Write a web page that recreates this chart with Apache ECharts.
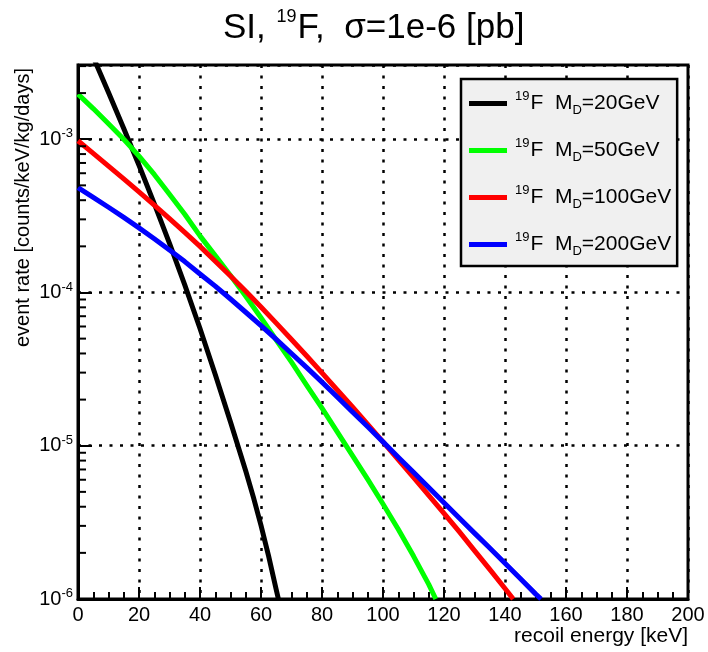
<!DOCTYPE html>
<html>
<head>
<meta charset="utf-8">
<script src="https://cdn.jsdelivr.net/npm/echarts@6/dist/echarts.min.js"></script>
<style>
html,body{margin:0;padding:0;background:#fff;}
#chart{width:708px;height:652px;}
</style>
</head>
<body>
<div id="chart"></div>
<script>
// ---- data ----
const xTickValues = [0, 20, 40, 60, 80, 100, 120, 140, 160, 180, 200];
const yMajorTicks = [1e-6, 1e-5, 1e-4, 1e-3];
const yMinorTicks = [2e-6,3e-6,4e-6,5e-6,6e-6,7e-6,8e-6,9e-6,
                     2e-5,3e-5,4e-5,5e-5,6e-5,7e-5,8e-5,9e-5,
                     2e-4,3e-4,4e-4,5e-4,6e-4,7e-4,8e-4,9e-4,
                     2e-3,3e-3];

const seriesNames = ['M20', 'M50', 'M100', 'M200'];
const massLabels = ['20', '50', '100', '200'];

const energy20 = [5,10,15,20,25,30,35,40,45,50,55,57.5,60,62.5,65,65.7];
const rate20 = [3.43e-3,2.02e-3,1.175e-3,6.76e-4,3.80e-4,2.09e-4,1.12e-4,5.82e-5,2.92e-5,1.43e-5,6.84e-6,4.62e-6,3.02e-6,1.905e-6,1.15e-6,1.0e-6];

const energy50 = [0,5,10,15,20,25,30,35,40,45,50,55,60,65,70,75,80,85,90,95,100,105,110,115,117.3];
const rate50 = [1.97e-3,1.585e-3,1.26e-3,1.0e-3,7.76e-4,5.89e-4,4.37e-4,3.24e-4,2.34e-4,1.74e-4,1.29e-4,9.44e-5,
                6.84e-5,4.90e-5,3.51e-5,2.48e-5,1.76e-5,1.23e-5,8.61e-6,6.03e-6,4.17e-6,2.85e-6,1.905e-6,1.245e-6,1.0e-6];

const energy100 = [0,5,10,15,20,25,30,35,40,45,50,55,60,65,70,75,80,85,90,95,100,105,110,115,120,125,130,135,140,142.7];
const rate100 = [9.77e-4,8.09e-4,6.68e-4,5.51e-4,4.53e-4,3.72e-4,3.03e-4,2.47e-4,2.0e-4,1.60e-4,1.28e-4,1.02e-4,
                 8.04e-5,6.31e-5,4.93e-5,3.85e-5,2.99e-5,2.31e-5,1.79e-5,1.38e-5,1.06e-5,8.13e-6,6.22e-6,4.75e-6,
                 3.62e-6,2.75e-6,2.07e-6,1.56e-6,1.17e-6,1.0e-6];

const energy200 = [0,5,10,15,20,25,30,35,40,45,50,55,60,65,70,75,80,85,90,95,100,105,110,115,120,125,130,135,140,145,150,151.8];
const rate200 = [4.84e-4,4.18e-4,3.60e-4,3.09e-4,2.64e-4,2.24e-4,1.89e-4,1.59e-4,1.32e-4,1.10e-4,9.07e-5,7.43e-5,
                 6.07e-5,4.94e-5,4.00e-5,3.23e-5,2.60e-5,2.08e-5,1.66e-5,1.33e-5,1.06e-5,8.42e-6,6.71e-6,5.34e-6,
                 4.25e-6,3.38e-6,2.69e-6,2.15e-6,1.71e-6,1.36e-6,1.08e-6,1.0e-6];

const energies = [energy20, energy50, energy100, energy200];
const rates = [rate20, rate50, rate100, rate200];
const colors = ['#000000', '#00ff00', '#ff0000', '#0000ff'];

// ---- chart ----
const FONT = '"Liberation Sans", Arial, Helvetica, sans-serif';
const chart = echarts.init(document.getElementById('chart'), null, {renderer: 'canvas'});

function pairs(xs, ys) { return xs.map((x, i) => [x, ys[i]]); }

const lineSeries = seriesNames.map((name, k) => ({
  name: name,
  type: 'line',
  data: pairs(energies[k], rates[k]),
  showSymbol: false,
  symbol: 'none',
  smooth: false,
  clip: true,
  color: colors[k],
  lineStyle: {color: colors[k], width: 5, join: 'round'},
  itemStyle: {color: colors[k]},
  emphasis: {disabled: true},
  animation: false,
  z: 3 + k
}));

const minorTickSeries = {
  name: 'yMinorTicks',
  type: 'custom',
  silent: true,
  clip: false,
  animation: false,
  z: 10,
  data: yMinorTicks.map(v => [0, v]),
  encode: {x: 0, y: 1},
  renderItem: function (params, api) {
    const p = api.coord([0, api.value(1)]);
    return {
      type: 'line',
      shape: {x1: p[0], y1: p[1], x2: p[0] + 8, y2: p[1]},
      style: {stroke: '#000', lineWidth: 2}
    };
  }
};

const option = {
  backgroundColor: '#ffffff',
  animation: false,
  textStyle: {fontFamily: FONT},
  title: {
    text: '{m|SI, }{s|19}{m|F,  σ=1e-6 [pb]}',
    left: 223,
    top: 8,
    padding: 0,
    textStyle: {
      fontFamily: FONT,
      fontWeight: 'normal',
      rich: {
        m: {fontFamily: FONT, fontSize: 35, fontWeight: 'normal', color: '#000', lineHeight: 40},
        s: {fontFamily: FONT, fontSize: 18, fontWeight: 'normal', color: '#000', verticalAlign: 'top', lineHeight: 20, padding: [0, 1, 0, 1]}
      }
    }
  },
  grid: {
    left: 78, right: 20, top: 65, bottom: 53,
    show: true,
    borderColor: '#000',
    borderWidth: 3,
    backgroundColor: 'transparent',
    containLabel: false,
    outerBoundsMode: 'none'
  },
  legend: {
    data: seriesNames,
    orient: 'vertical',
    left: 461,
    top: 79,
    icon: 'rect',
    itemWidth: 38,
    itemHeight: 5,
    itemGap: 20,
    selectedMode: false,
    backgroundColor: '#f0f0f0',
    borderColor: '#000',
    borderWidth: 2.5,
    borderRadius: 0,
    padding: [11, 6, 8, 8],
    formatter: function (name) {
      const i = seriesNames.indexOf(name);
      return '{s|19}{t|F  M}{d|D}{t|=' + massLabels[i] + 'GeV}';
    },
    textStyle: {
      color: '#000',
      fontFamily: FONT,
      fontSize: 21,
      rich: {
        t: {fontFamily: FONT, fontSize: 21, color: '#000', lineHeight: 27},
        s: {fontFamily: FONT, fontSize: 13, color: '#000', verticalAlign: 'top', lineHeight: 12, padding: [0, 1, 0, 3]},
        d: {fontFamily: FONT, fontSize: 13, color: '#000', verticalAlign: 'bottom', lineHeight: 12}
      }
    }
  },
  xAxis: {
    type: 'value',
    min: 0,
    max: 200,
    interval: 20,
    name: 'recoil energy [keV]',
    nameLocation: 'end',
    nameGap: 0,
    nameTextStyle: {
      fontFamily: FONT, fontSize: 21, color: '#000',
      align: 'right', verticalAlign: 'top', padding: [27, 0, 0, 0]
    },
    axisLine: {show: true, onZero: false, lineStyle: {color: '#000', width: 3}},
    axisTick: {show: true, inside: true, length: 12, lineStyle: {color: '#000', width: 2}},
    minorTick: {show: true, splitNumber: 4, length: 7, lineStyle: {color: '#000', width: 2}},
    axisLabel: {
      fontFamily: FONT, fontSize: 20, color: '#000', margin: 6,
      formatter: function (v) { return xTickValues.indexOf(v) >= 0 ? String(v) : ''; }
    },
    splitLine: {show: true, lineStyle: {color: '#000', width: 2.5, type: [3, 7.5]}}
  },
  yAxis: {
    type: 'log',
    logBase: 10,
    min: 1e-6,
    max: 3.05e-3,
    name: 'event rate [counts/keV/kg/days]',
    nameLocation: 'end',
    nameGap: -3,
    nameRotate: 90,
    nameTextStyle: {
      fontFamily: FONT, fontSize: 20, color: '#000',
      align: 'right', verticalAlign: 'bottom', padding: [0, 0, 45, 0]
    },
    axisLine: {show: true, onZero: false, lineStyle: {color: '#000', width: 3}},
    axisTick: {show: true, inside: true, length: 14, lineStyle: {color: '#000', width: 2}},
    minorTick: {show: false},
    axisLabel: {
      margin: 5,
      formatter: function (v) {
        const e = Math.round(Math.log10(v));
        let ok = false;
        for (const t of yMajorTicks) { if (Math.abs(v - t) < t * 1e-3) ok = true; }
        if (!ok) return '';
        return '{b|10}{s|' + e + '}';
      },
      rich: {
        b: {fontFamily: FONT, fontSize: 20, color: '#000', lineHeight: 24},
        s: {fontFamily: FONT, fontSize: 13, color: '#000', verticalAlign: 'top', lineHeight: 14}
      }
    },
    splitLine: {show: true, lineStyle: {color: '#000', width: 2.5, type: [3, 7.5]}}
  },
  series: lineSeries.concat([minorTickSeries])
};

chart.setOption(option);
</script>
</body>
</html>
